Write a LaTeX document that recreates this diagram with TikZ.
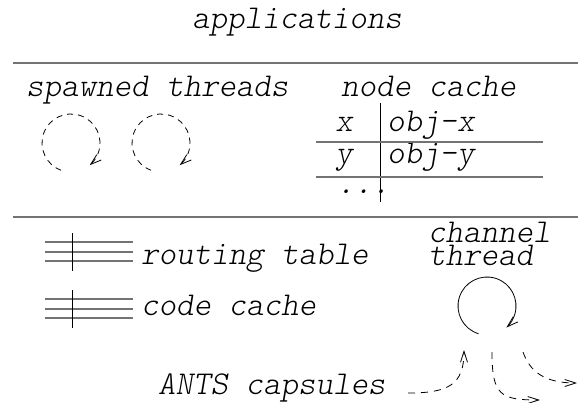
\documentclass[tikz,border=0pt]{standalone}
\usepackage{fontspec}
\newfontfamily\courfont{lmmonolt10-oblique}[Extension=.otf]
\usetikzlibrary{arrows.meta}
\definecolor{rulegray}{gray}{0.45}
\begin{document}
\begin{tikzpicture}[x=1pt,y=1pt,
    lbl/.style={inner sep=0pt,font=\courfont\fontsize{33.3}{34}\selectfont},
    sep/.style={draw=rulegray,line width=1.6pt},
    tabline/.style={draw=rulegray,line width=1.3pt},
    barb/.style={-{Straight Barb[length=11pt,width=7pt]}},
    dashloop/.style={barb,dash pattern=on 6pt off 5pt,line width=0.8pt},
    loop/.style={barb,line width=0.8pt},
    capsarrow/.style={barb,dash pattern=on 7pt off 6pt,line width=0.8pt}]
  \useasboundingbox (0,0) rectangle (578,-402);
  % Layers
  \node[lbl,anchor=base] (apps) at (297,-28) {applications};
  \draw[sep] (13,-63) -- (578,-63);
  \draw[sep] (13,-217) -- (578,-217);
  % Spawned threads
  \node[lbl,anchor=base west] (spawned) at (26,-96) {spawned threads};
  \coordinate (sp1) at (71,-143);
  \coordinate (sp2) at (161,-143);
  \foreach \c in {sp1,sp2}{
    \draw[dashloop] ([shift={(250:29)}]\c) arc[start angle=250,end angle=-50,radius=29];
  }
  % Node cache
  \node[lbl,anchor=base west] (cache) at (341,-96) {node cache};
  \node[lbl,anchor=base] (kx) at (344,-131) {x};
  \node[lbl,anchor=base west] (vx) at (387,-131) {obj-x};
  \node[lbl,anchor=base] (ky) at (344,-163) {y};
  \node[lbl,anchor=base west] (vy) at (387,-163) {obj-y};
  \node[lbl,anchor=base west] (dots) at (337,-193) {...};
  \draw[line width=0.8pt] (380,-103) -- (380,-202);
  \foreach \y in {-142,-177}{
    \draw[tabline] (316,\y) -- (543,\y);
  }
  % Routing table and code cache
  \node[lbl,anchor=base west] (route) at (141,-264) {routing table};
  \node[lbl,anchor=base west] (code) at (141,-315) {code cache};
  \foreach \y in {-242,-252,-261,-299,-309,-318}{
    \draw[tabline] (45,\y) -- (133,\y);
  }
  \draw[line width=0.8pt] (72,-233) -- (72,-271);
  \draw[line width=0.8pt] (72,-290) -- (72,-328);
  % Channel thread
  \node[lbl,anchor=base west,align=left,font=\courfont\fontsize{33.3}{23}\selectfont]
    (chan) at (428,-265) {channel\\thread};
  \coordinate (ch) at (487,-306);
  \draw[loop] ([shift={(253:29)}]ch) arc[start angle=253,end angle=-48,radius=29];
  % Capsules
  \node[lbl,anchor=base west] (caps) at (158,-394) {ANTS capsules};
  \coordinate (inA) at (408,-393);
  \coordinate (inB) at (464,-350);
  \coordinate (outA) at (492,-352);
  \coordinate (outB) at (540,-400);
  \coordinate (outC) at (523,-352);
  \coordinate (outD) at (577,-383);
  \draw[capsarrow] (inA) .. controls (448,-393) and (464,-385) .. (inB);
  \draw[capsarrow] (outA) .. controls (492,-395) and (500,-400) .. (outB);
  \draw[capsarrow] (outC) .. controls (530,-372) and (545,-383) .. (outD);
\end{tikzpicture}
\end{document}
